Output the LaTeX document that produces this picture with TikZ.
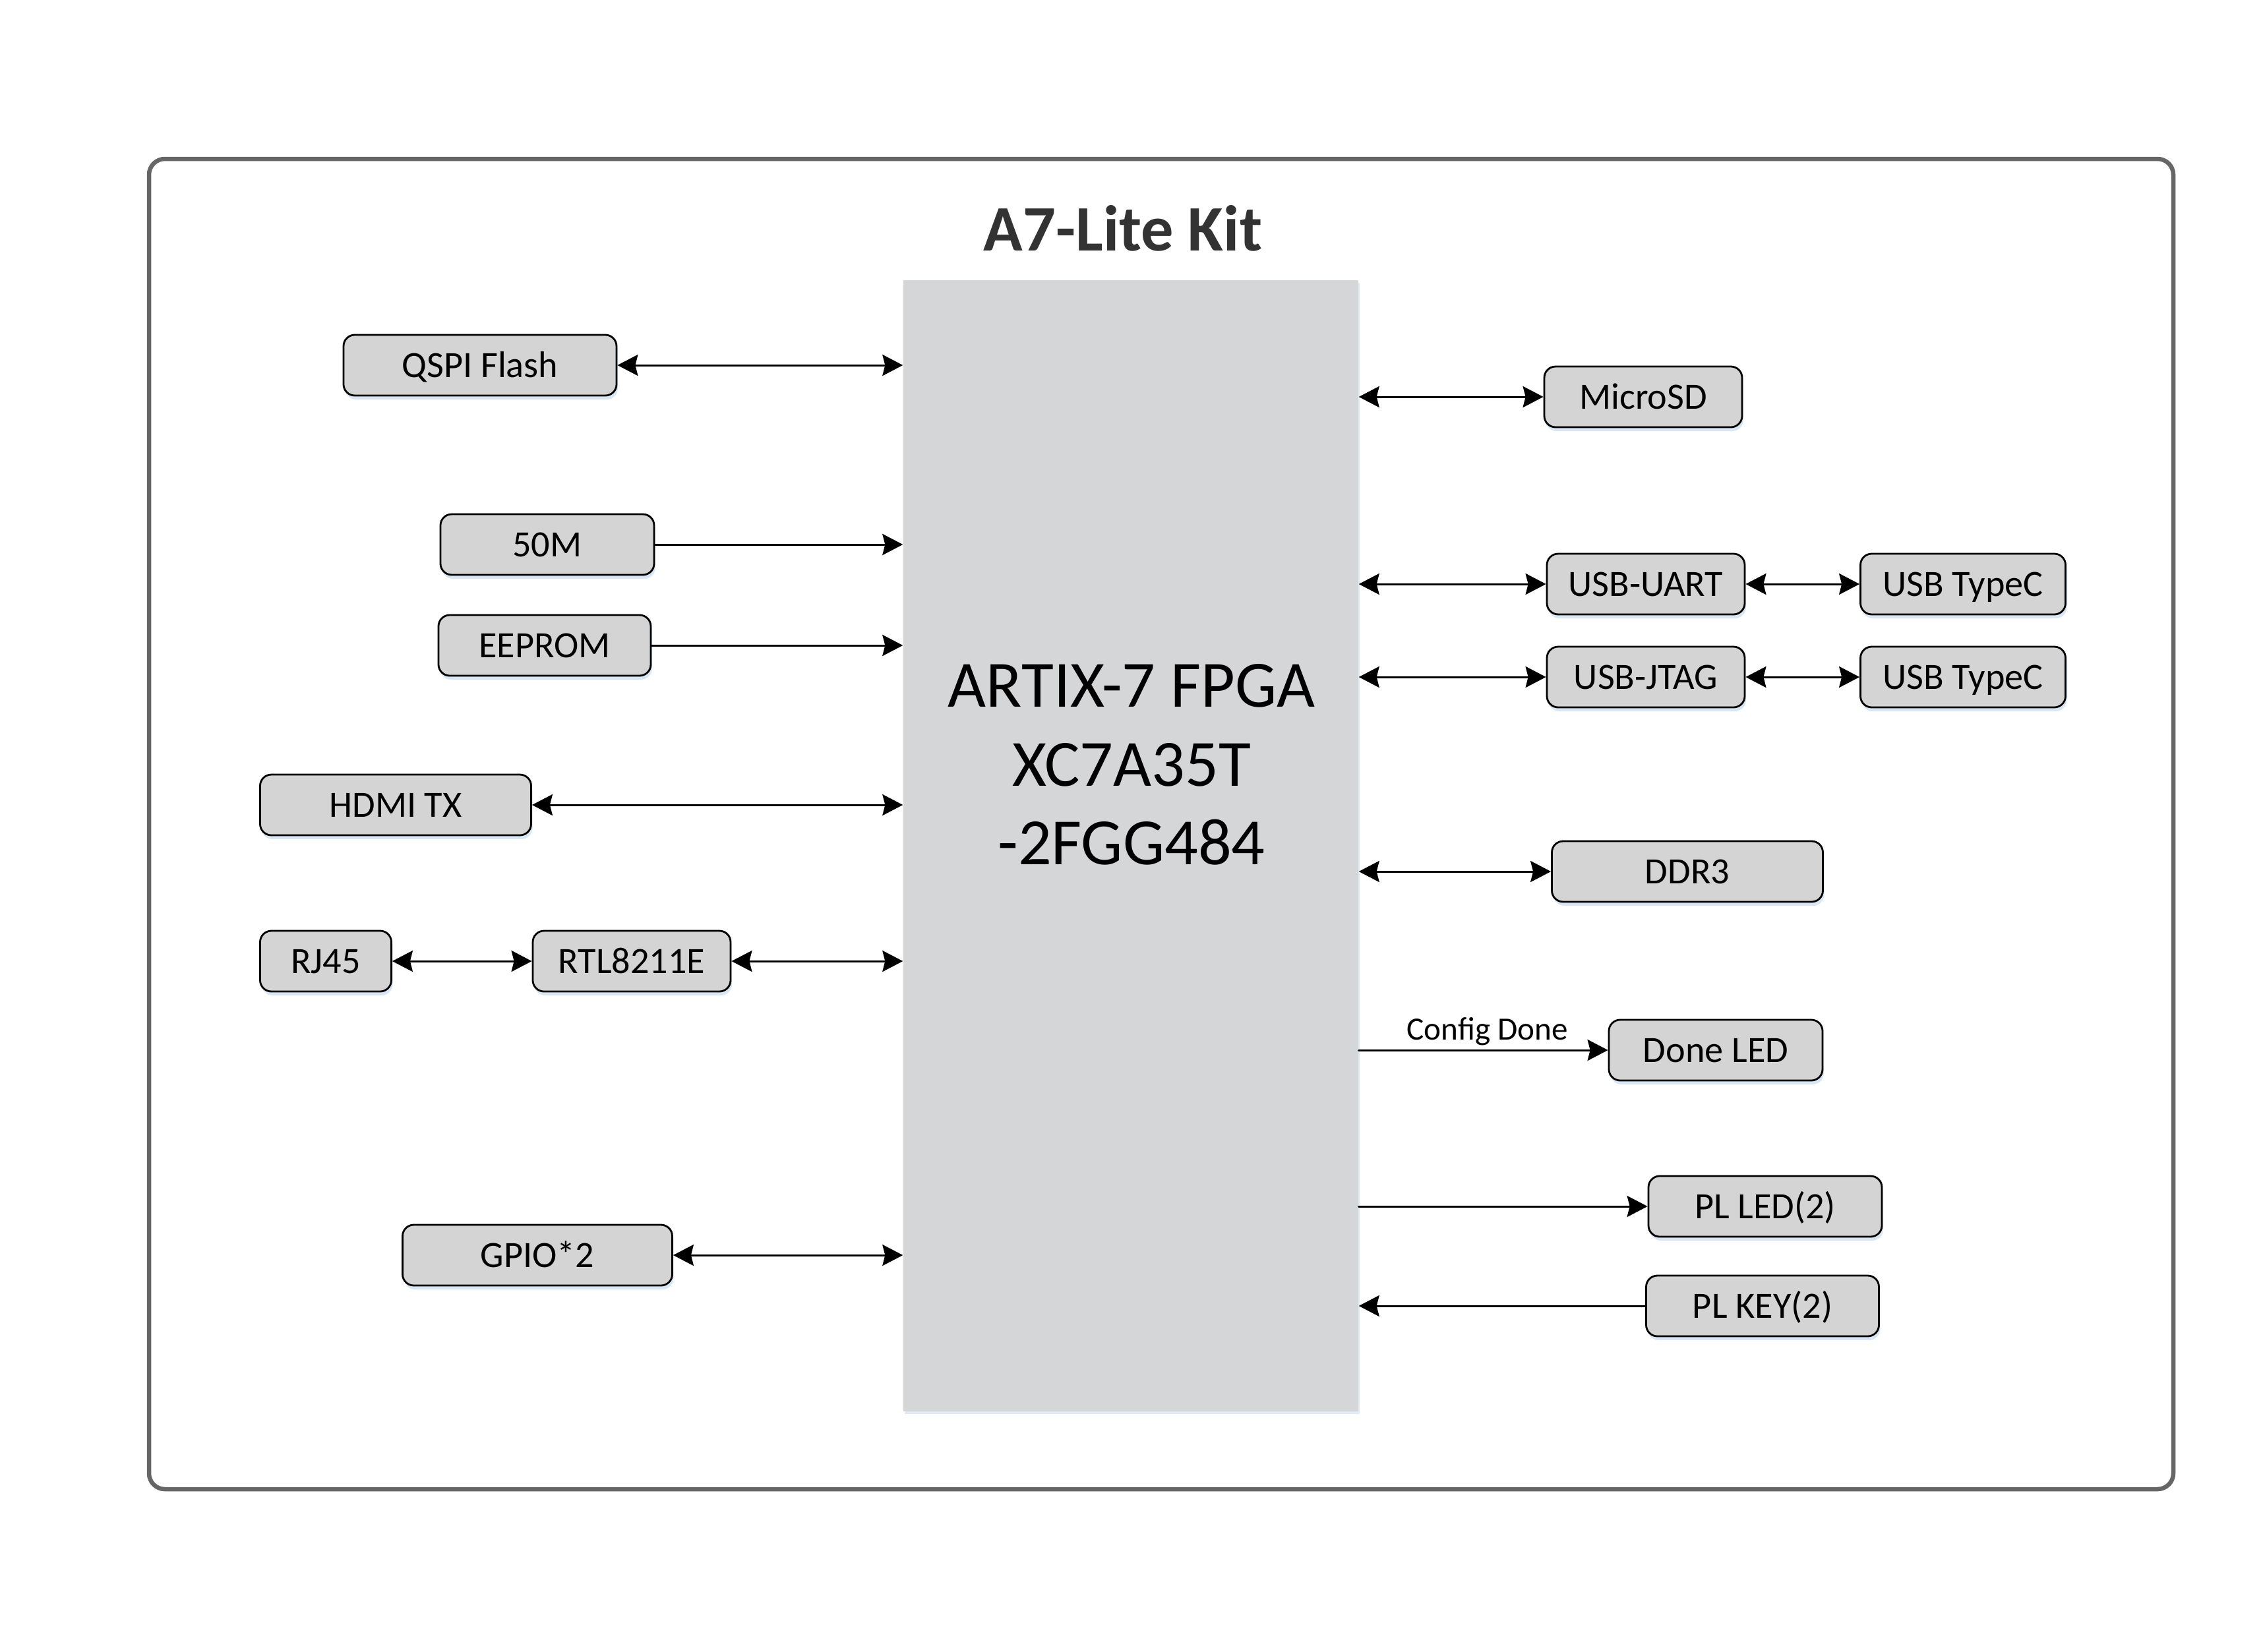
\documentclass[tikz,border=0pt]{standalone}
\usepackage{fontspec}
\setmainfont{Carlito}
\usetikzlibrary{arrows.meta,shadows}

\definecolor{framegray}{HTML}{666666}
\definecolor{blkgray}{HTML}{D4D4D4}
\definecolor{fpgagray}{HTML}{D5D6D8}
\definecolor{titlegray}{HTML}{333333}
\definecolor{shadowblue}{HTML}{C9DCF0}

\begin{document}
\begin{tikzpicture}[x=1cm,y=-1cm,line cap=round,
  blk/.style={draw=black, line width=0.8pt, fill=blkgray, rounded corners=0.17cm,
    minimum height=0.92cm, inner sep=0pt, font=\fontsize{16}{18}\selectfont,
    text height=13.6pt, text depth=3.2pt,
    drop shadow={shadow xshift=0.02cm, shadow yshift=-0.06cm, fill=shadowblue, opacity=0.7}},
  bi/.style={line width=0.85pt, {Stealth[length=0.31cm,width=0.32cm,inset=0.04cm]}-{Stealth[length=0.31cm,width=0.32cm,inset=0.04cm]}},
  uni/.style={line width=0.85pt, -{Stealth[length=0.31cm,width=0.32cm,inset=0.04cm]}}]

\useasboundingbox (0,0) rectangle (34.32,25.05);

% --- Cornice ---
\draw[framegray, line width=0.065cm, rounded corners=0.24cm] (2.26,2.41) rectangle (32.96,22.59);
\node[titlegray, font=\fontsize{28}{32}\selectfont\bfseries] (title) at (17.03,3.46) {A7-Lite Kit};

% --- FPGA ---
\node[fill=fpgagray, minimum width=6.9cm, minimum height=17.16cm, inner sep=0pt,
  drop shadow={shadow xshift=0.02cm, shadow yshift=-0.04cm, fill=shadowblue, opacity=0.6}] (fpga) at (17.15,12.83) {};
\node[align=center, font=\fontsize{28.5}{34}\selectfont] (fpgatxt) at (17.16,11.60) {ARTIX-7 FPGA\\XC7A35T\\-2FGG484};

% --- Blocchi a sinistra ---
\node[blk, minimum width=4.14cm] (qspi)   at (7.28,5.54)  {QSPI Flash};
\node[blk, minimum width=3.24cm] (osc)    at (8.30,8.26)  {50M};
\node[blk, minimum width=3.22cm] (eeprom) at (8.26,9.79)  {EEPROM};
\node[blk, minimum width=4.11cm] (hdmi)   at (6.00,12.21) {HDMI TX};
\node[blk, minimum width=1.99cm] (rj)     at (4.94,14.58) {RJ45};
\node[blk, minimum width=3.00cm] (phy)    at (9.58,14.58) {RTL8211E};
\node[blk, minimum width=4.09cm] (gpio)   at (8.15,19.04) {GPIO*2};

% --- Blocchi a destra ---
\node[blk, minimum width=3.00cm] (sd)     at (24.92,6.02)  {MicroSD};
\node[blk, minimum width=3.00cm] (uart)   at (24.96,8.86)  {USB-UART};
\node[blk, minimum width=3.11cm] (typea)  at (29.77,8.86)  {USB TypeC};
\node[blk, minimum width=3.00cm] (jtag)   at (24.96,10.27) {USB-JTAG};
\node[blk, minimum width=3.11cm] (typeb)  at (29.77,10.27) {USB TypeC};
\node[blk, minimum width=4.11cm] (ddr)    at (25.59,13.22) {DDR3};
\node[blk, minimum width=3.24cm] (done)   at (26.02,15.93) {Done LED};
\node[blk, minimum width=3.54cm] (led)    at (26.77,18.30) {PL LED(2)};
\node[blk, minimum width=3.53cm] (key)    at (26.73,19.81) {PL KEY(2)};

% --- Collegamenti a sinistra ---
\draw[bi]  (qspi.east)   -- (qspi.east -| fpga.west);
\draw[uni] (osc.east)    -- (osc.east -| fpga.west);
\draw[uni] (eeprom.east) -- (eeprom.east -| fpga.west);
\draw[bi]  (hdmi.east)   -- (hdmi.east -| fpga.west);
\draw[bi]  (rj.east)     -- (phy.west);
\draw[bi]  (phy.east)    -- (phy.east -| fpga.west);
\draw[bi]  (gpio.east)   -- (gpio.east -| fpga.west);

% --- Collegamenti a destra ---
\draw[bi]  (sd.west -| fpga.east)   -- (sd.west);
\draw[bi]  (uart.west -| fpga.east) -- (uart.west);
\draw[bi]  (uart.east) -- (typea.west);
\draw[bi]  (jtag.west -| fpga.east) -- (jtag.west);
\draw[bi]  (jtag.east) -- (typeb.west);
\draw[bi]  (ddr.west -| fpga.east)  -- (ddr.west);
\draw[uni] (done.west -| fpga.east) -- node[above, inner sep=0.06cm, xshift=0.06cm, font=\fontsize{14}{16}\selectfont] (cfglbl) {Config Done} (done.west);
\draw[uni] (led.west -| fpga.east)  -- (led.west);
\draw[uni] (key.west) -- (key.west -| fpga.east);

\end{tikzpicture}
\end{document}
